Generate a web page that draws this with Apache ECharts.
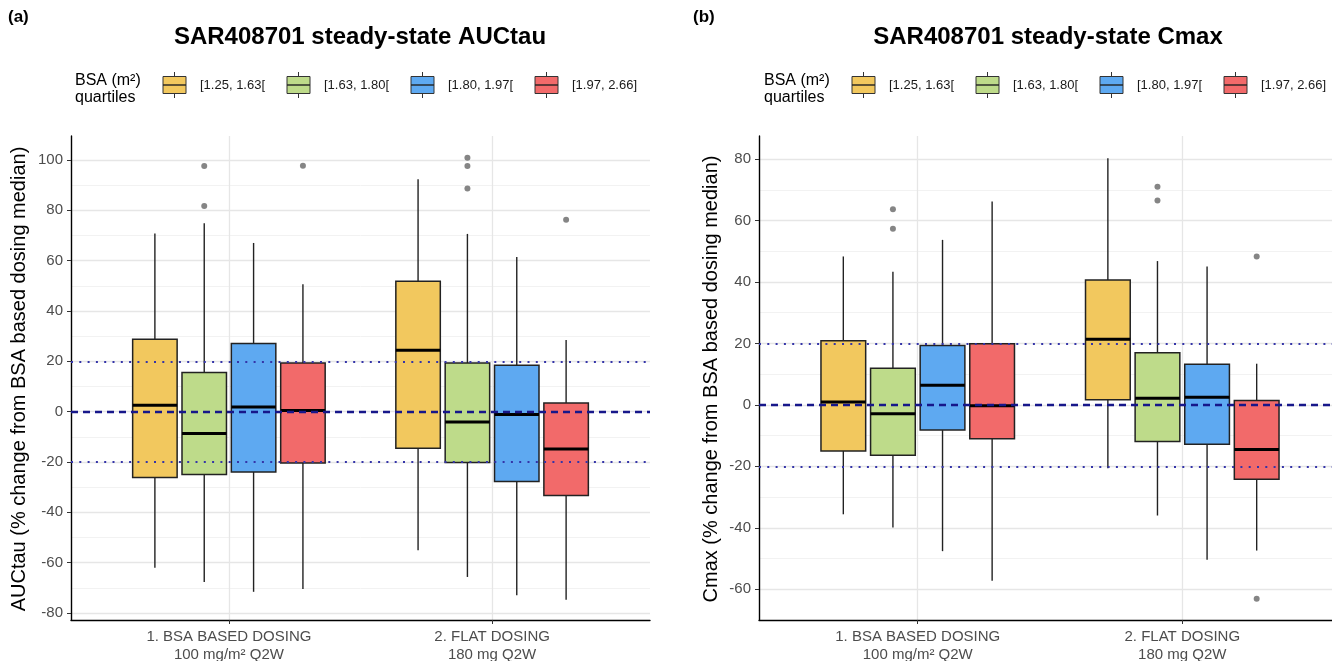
<!DOCTYPE html>
<html><head><meta charset="utf-8">
<script src="https://cdn.jsdelivr.net/npm/echarts@6/dist/echarts.min.js"></script>
<style>html,body{margin:0;padding:0;background:#fff;overflow:hidden}#chart{width:1332px;height:661px}</style>
</head><body><div id="chart"></div>
<script>
// ---------------- DATA ----------------
const groupLabels = ['1. BSA BASED DOSING\n100 mg/m² Q2W', '2. FLAT DOSING\n180 mg Q2W'];
const quartileLabels = ['[1.25, 1.63[', '[1.63, 1.80[', '[1.80, 1.97[', '[1.97, 2.66]'];
const legendTitle = 'BSA (m²)\nquartiles';
const panelTitles = ['SAR408701 steady-state AUCtau', 'SAR408701 steady-state Cmax'];
const panelTags = ['(a)', '(b)'];
const yTitles = ['AUCtau (% change from BSA based dosing median)', 'Cmax (% change from BSA based dosing median)'];

// [lower whisker, Q1, median, Q3, upper whisker] for group 1 (BSA based) and group 2 (flat)
const aucQ1 = [[-62.0, -26.2, 2.5, 28.7, 70.8], [-55.1, -14.6, 24.4, 51.8, 92.3]];
const aucQ2 = [[-67.7, -25.0, -8.7, 15.5, 74.8], [-65.7, -20.2, -4.1, 19.3, 70.6]];
const aucQ3 = [[-71.6, -24.0, 1.8, 27.1, 67.0], [-73.0, -27.8, -1.2, 18.4, 61.4]];
const aucQ4 = [[-70.5, -20.4, 0.4, 19.3, 50.6], [-74.8, -33.3, -14.9, 3.4, 28.4]];
const aucOut1 = [[], []];
const aucOut2 = [[97.6, 81.7], [100.9, 97.6, 88.6]];
const aucOut3 = [[], []];
const aucOut4 = [[97.7], [76.2]];

const cmaxQ1 = [[-35.6, -15.0, 0.9, 20.9, 48.3], [-20.6, 1.7, 21.4, 40.6, 80.3]];
const cmaxQ2 = [[-39.9, -16.4, -2.9, 11.9, 43.3], [-36.0, -11.9, 2.2, 17.0, 46.8]];
const cmaxQ3 = [[-47.6, -8.2, 6.4, 19.3, 53.7], [-50.4, -12.8, 2.5, 13.2, 45.0]];
const cmaxQ4 = [[-57.2, -11.0, -0.3, 19.9, 66.2], [-47.4, -24.2, -14.5, 1.4, 13.4]];
const cmaxOut1 = [[], []];
const cmaxOut2 = [[63.7, 57.3], [71.0, 66.5]];
const cmaxOut3 = [[], []];
const cmaxOut4 = [[], [48.3, -63.1]];

const aucTicks = [-80, -60, -40, -20, 0, 20, 40, 60, 80, 100];
const aucMinor = [-70, -50, -30, -10, 10, 30, 50, 70, 90];
const cmaxTicks = [-60, -40, -20, 0, 20, 40, 60, 80];
const cmaxMinor = [-70, -50, -30, -10, 10, 30, 50, 70];
const refLines = [0, 20, -20];

// ---------------- STYLE / LAYOUT ----------------
const colors = ['#F2C85E', '#BEDB8A', '#5EA9F1', '#F26A6A'];
const dodge = [-0.28125, -0.09375, 0.09375, 0.28125];
const boxW = 0.169;
const FONT = '"Liberation Sans", Arial, Helvetica, sans-serif';

const panels = [
  {stats: [aucQ1, aucQ2, aucQ3, aucQ4], outs: [aucOut1, aucOut2, aucOut3, aucOut4], ticks: aucTicks, minor: aucMinor, range: [-82.8, 109.5],
   grid: {left: 71, top: 136, width: 579, height: 484}, titleX: 360, tagX: 8, legX: 75, yTitleX: 19},
  {stats: [cmaxQ1, cmaxQ2, cmaxQ3, cmaxQ4], outs: [cmaxOut1, cmaxOut2, cmaxOut3, cmaxOut4], ticks: cmaxTicks, minor: cmaxMinor, range: [-70, 87.5],
   grid: {left: 759, top: 136, width: 582, height: 484}, titleX: 1048, tagX: 693, legX: 764, yTitleX: 711}
];

function renderBox(params, api) {
  const x = api.value(0), lo = api.value(1), q1 = api.value(2), med = api.value(3), q3 = api.value(4), hi = api.value(5);
  const color = api.visual('color');
  const h = boxW / 2;
  const tl = api.coord([x - h, q3]), br = api.coord([x + h, q1]);
  const pHi = api.coord([x, hi]), pQ3 = api.coord([x, q3]), pQ1 = api.coord([x, q1]), pLo = api.coord([x, lo]);
  const mL = api.coord([x - h, med]), mR = api.coord([x + h, med]);
  const ws = {stroke: '#222', lineWidth: 1.4};
  return {type: 'group', children: [
    {type: 'line', shape: {x1: pHi[0], y1: pHi[1], x2: pQ3[0], y2: pQ3[1]}, style: ws},
    {type: 'line', shape: {x1: pQ1[0], y1: pQ1[1], x2: pLo[0], y2: pLo[1]}, style: ws},
    {type: 'rect', shape: {x: tl[0], y: tl[1], width: br[0] - tl[0], height: br[1] - tl[1]}, style: {fill: color, stroke: '#222', lineWidth: 1.5}},
    {type: 'line', shape: {x1: mL[0], y1: mL[1], x2: mR[0], y2: mR[1]}, style: {stroke: '#000', lineWidth: 3}}
  ]};
}

const grids = [], xAxes = [], yAxes = [], series = [], graphics = [];
panels.forEach((p, pi) => {
  grids.push(Object.assign({containLabel: false, outerBoundsMode: 'none'}, p.grid));
  xAxes.push({
    type: 'value', gridIndex: pi, min: 0.4, max: 2.6,
    axisLine: {show: true, onZero: false, lineStyle: {color: '#000', width: 1.4}},
    axisTick: {show: true, length: 4, customValues: [1, 2], lineStyle: {color: '#333'}},
    axisLabel: {customValues: [1, 2], formatter: v => groupLabels[Math.round(v) - 1], fontFamily: FONT, fontSize: 15, color: '#4d4d4d', lineHeight: 18, margin: 8},
    splitLine: {show: true, lineStyle: {color: '#e6e6e6', width: 1.3}}
  });
  yAxes.push({
    type: 'value', gridIndex: pi, min: p.range[0], max: p.range[1],
    axisLine: {show: true, onZero: false, lineStyle: {color: '#000', width: 1.4}},
    axisTick: {show: true, length: 4, customValues: p.ticks, lineStyle: {color: '#333'}},
    axisLabel: {customValues: p.ticks, fontFamily: FONT, fontSize: 15, color: '#4d4d4d', margin: 8},
    splitLine: {show: true, lineStyle: {color: '#e6e6e6', width: 1.3}}
  });
  p.stats.forEach((qs, qi) => {
    series.push({
      type: 'custom', name: quartileLabels[qi], xAxisIndex: pi, yAxisIndex: pi,
      itemStyle: {color: colors[qi]}, renderItem: renderBox, z: 3,
      encode: {x: 0, y: [1, 2, 3, 4, 5]},
      data: qs.map((s, gi) => [gi + 1 + dodge[qi]].concat(s))
    });
  });
  const outData = [];
  p.outs.forEach((o, qi) => o.forEach((vals, gi) => vals.forEach(v => outData.push([gi + 1 + dodge[qi], v]))));
  series.push({type: 'scatter', xAxisIndex: pi, yAxisIndex: pi, data: outData, symbolSize: 6,
    itemStyle: {color: '#676767'}, z: 4, silent: true});
  series.push({type: 'line', xAxisIndex: pi, yAxisIndex: pi, data: [], z: 10, silent: true,
    markLine: {silent: true, symbol: 'none', label: {show: false}, animation: false,
      data: refLines.map(v => ({yAxis: v, lineStyle: v === 0
        ? {type: [7, 5], width: 2.3, color: '#17178a'}
        : {type: [2, 6.3], width: 2.1, color: '#3434a8'}}))}});

  // texts
  graphics.push({type: 'text', left: p.tagX, top: 9, style: {text: panelTags[pi], font: 'bold 17px ' + FONT, fill: '#000'}});
  graphics.push({type: 'text', x: p.titleX, y: 37, style: {text: panelTitles[pi], font: 'bold 24px ' + FONT, fill: '#000', align: 'center', verticalAlign: 'middle'}});
  graphics.push({type: 'text', x: p.yTitleX, y: 379, rotation: Math.PI / 2, style: {text: yTitles[pi], font: '20px ' + FONT, fill: '#000', align: 'center', verticalAlign: 'middle'}});
  graphics.push({type: 'text', x: p.legX, y: 89, style: {text: legendTitle, font: '16px ' + FONT, fill: '#000', lineHeight: 17, verticalAlign: 'middle'}});
  quartileLabels.forEach((lab, qi) => {
    const kx = p.legX + 88 + qi * 124;
    graphics.push({type: 'line', shape: {x1: kx + 11.5, y1: 72, x2: kx + 11.5, y2: 98}, style: {stroke: '#333', lineWidth: 1}});
    graphics.push({type: 'rect', shape: {x: kx, y: 76.5, width: 23, height: 17}, style: {fill: colors[qi], stroke: '#333', lineWidth: 1}});
    graphics.push({type: 'line', shape: {x1: kx, y1: 85, x2: kx + 23, y2: 85}, style: {stroke: '#222', lineWidth: 1.4}});
    graphics.push({type: 'text', x: kx + 37, y: 85, style: {text: lab, font: '13px ' + FONT, fill: '#1a1a1a', verticalAlign: 'middle'}});
  });
});
// minor gridlines
panels.forEach((p, pi) => {
  yAxes.push({
    type: 'value', gridIndex: pi, min: p.range[0], max: p.range[1], position: 'left',
    axisLine: {show: false}, axisLabel: {show: false},
    axisTick: {show: false, customValues: p.minor},
    splitLine: {show: true, lineStyle: {color: '#f0f0f0', width: 0.9}}
  });
});

const chart = echarts.init(document.getElementById('chart'), null, {renderer: 'canvas'});
chart.setOption({
  animation: false, backgroundColor: '#fff',
  grid: grids, xAxis: xAxes, yAxis: yAxes, series: series, graphic: graphics
});
</script></body></html>
